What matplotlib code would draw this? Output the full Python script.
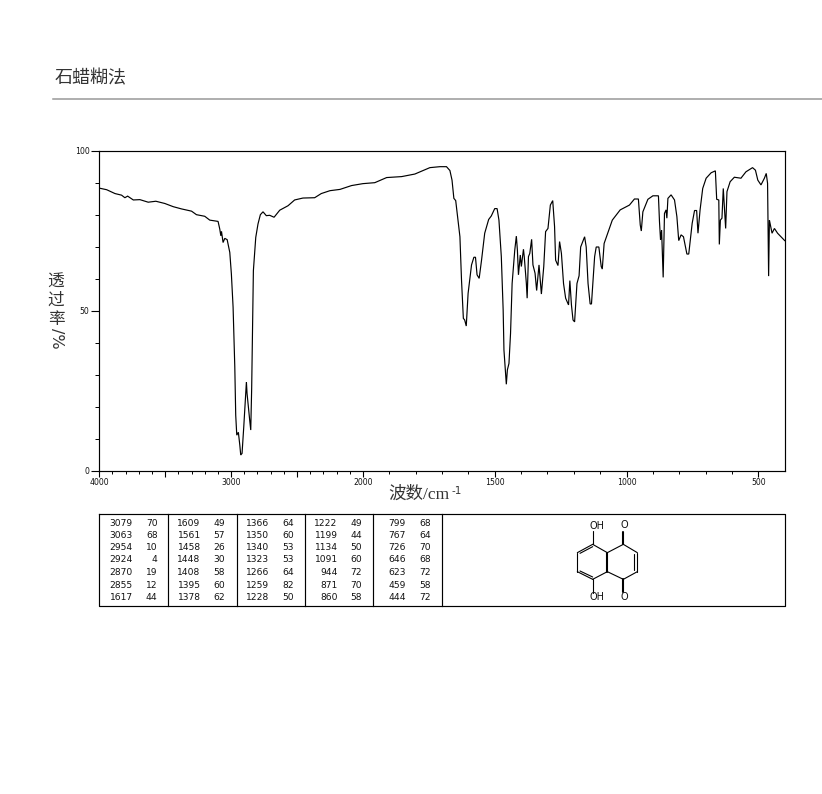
import numpy as np
import matplotlib
matplotlib.use("Agg")
import matplotlib.pyplot as plt

CJK = ['Noto Sans CJK SC', 'DejaVu Sans']
SERIF_CJK = ['Liberation Serif', 'Noto Sans CJK SC']

wavenumber = [4000,3944,3881,3831,3806,3785,3742,3692,3629,3571,3503,3439,3376,3300,3263,3200,3162,3099,
 3086,3078,3073,3061,3048,3030,3010,2998,2985,2972,2965,2957,2950,2945,2934,2927,2917,2904,2894,2884,2879,
 2869,2859,2851,2844,2831,2813,2796,2778,2758,2733,2707,2674,2631,2568,2518,2455,2366,2316,2250,2174,2086,
 2000,1955,1910,1853,1803,1746,1708,1683,1670,1662,1655,1648,1641,1632,1626,1619,1614,1608,1601,1588,1579,
 1573,1567,1559,1550,1538,1523,1513,1500,1491,1484,1475,1468,1465,1460,1456,1452,1446,1440,1434,1424,1418,
 1414,1410,1403,1399,1391,1388,1380,1377,1372,1367,1360,1355,1347,1341,1332,1323,1314,1307,1298,1289,1280,
 1273,1269,1260,1254,1247,1239,1231,1220,1215,1209,1203,1197,1188,1180,1174,1159,1153,1146,1138,1133,1121,
 1115,1105,1096,1092,1085,1067,1054,1024,989,970,955,948,944,938,919,900,879,875,871,867,861,856,850,847,
 843,831,818,809,802,793,784,771,764,751,742,734,729,721,711,698,679,663,658,650,648,644,638,633,628,624,
 619,607,591,566,547,522,511,502,490,477,470,465,461,458,448,439,427,408,400]
transmittance = [88.4,87.9,86.7,86.2,85.4,85.9,84.7,84.8,84.0,84.3,83.6,82.6,81.9,81.2,80.1,79.6,78.4,78.0,
 75.6,73.5,74.9,71.4,72.7,72.3,68.3,61.6,51.2,32.5,17.4,11.2,11.7,12.1,8.1,5.0,5.5,13.8,21.1,27.8,24.2,
 20.0,15.9,12.8,25.8,62.6,73.0,77.2,80.1,81.0,79.8,79.9,79.3,81.5,82.9,84.7,85.3,85.4,86.7,87.6,88.0,89.2,
 89.8,90.1,91.7,92.0,92.8,94.8,95.1,95.1,93.9,90.9,85.2,84.5,79.5,73.2,59.7,47.7,47.2,45.3,55.5,64.4,66.8,
 66.8,61.3,60.2,65.9,74.3,78.6,79.7,82.0,82.0,78.4,67.0,50.3,37.8,31.6,27.1,31.6,33.6,43.0,58.6,69.0,73.4,
 69.0,61.3,67.5,63.9,69.3,67.0,58.6,54.0,67.0,68.0,72.4,64.4,61.8,56.4,64.4,55.3,63.9,74.8,75.8,83.1,84.5,
 76.4,65.9,64.2,71.7,68.0,58.6,54.0,51.9,59.5,51.9,47.2,46.6,58.6,61.0,70.0,73.2,70.0,58.6,52.2,52.2,67.0,
 70.0,70.0,63.9,63.1,71.1,75.3,78.4,81.6,83.1,85.0,85.0,76.9,75.0,81.0,84.9,86.0,86.0,77.9,72.2,75.3,60.5,80.5,81.6,79.0,
 85.2,86.3,84.7,79.5,72.0,73.8,73.2,67.8,67.8,77.4,81.4,81.4,74.3,81.6,88.3,91.5,93.2,93.8,84.9,84.7,70.8,78.4,79.0,88.3,81.6,75.8,
 87.3,90.4,91.8,91.5,93.5,94.8,94.0,90.9,89.4,91.5,93.0,89.9,60.9,78.4,74.3,75.8,74.3,72.7,72.0]

major_xticks = [4000, 3000, 2000, 1500, 1000, 500]
y_labels = [0, 50, 100]

peak_wn = [[3079,3063,2954,2924,2870,2855,1617],
           [1609,1561,1458,1448,1408,1395,1378],
           [1366,1350,1340,1323,1266,1259,1228],
           [1222,1199,1134,1091,944,871,860],
           [799,767,726,646,623,459,444]]
peak_t = [[70,68,10,4,19,12,44],
          [49,57,26,30,58,60,62],
          [64,60,53,53,64,82,50],
          [49,44,50,60,72,70,58],
          [68,64,70,68,72,58,72]]

W, H = 822, 794
fig = plt.figure(figsize=(W/100, H/100), dpi=100, facecolor='white')

# full-figure pixel overlay for page furniture
pg = fig.add_axes([0, 0, 1, 1])
pg.set_xlim(0, W); pg.set_ylim(H, 0); pg.axis('off')

ax = fig.add_axes([99.3/W, 1-471/H, (784.7-99.3)/W, 320/H])

def fwd(w):
    w = np.asarray(w, dtype=float)
    return np.where(w >= 2000, w, 2000 + (w-2000)*2)
def inv(v):
    v = np.asarray(v, dtype=float)
    return np.where(v >= 2000, v, 2000 + (v-2000)/2)
ax.set_xscale('function', functions=(fwd, inv))
ax.set_xlim(4000, 400)
ax.set_ylim(0, 100)
ax.plot(wavenumber, transmittance, color='black', lw=0.85, solid_joinstyle='miter')

ax.set_xticks(list(range(4000, 400, -500)))
ax.set_xticklabels([str(t) if t in major_xticks else '' for t in range(4000, 400, -500)], fontsize=5.6, family='DejaVu Sans', color='#111111')
ax.set_xticks(list(range(3900, 400, -100)), minor=True)
ax.set_yticks(y_labels)
ax.set_yticklabels([str(v) for v in y_labels], fontsize=5.6, color='#111111')
ax.set_yticks(list(range(0, 101, 10)), minor=True)
ax.tick_params(axis='x', which='major', length=4, width=0.8, pad=1)
ax.tick_params(axis='x', which='minor', length=2, width=0.7)
ax.tick_params(axis='y', which='major', length=6, width=0.8, pad=1)
ax.tick_params(axis='y', which='minor', length=3, width=0.7)
for s in ax.spines.values():
    s.set_linewidth(0.85)

# heading
pg.text(55, 78.5, '石蜡糊法', fontsize=13, family=CJK, color='#333333', ha='left', va='center')
pg.plot([53, 822], [99, 99], color='#999999', lw=1.1)

# axis titles
for yc, ch in zip([282.5, 300.5, 319.5], '透过率'):
    pg.text(56, yc, ch, fontsize=12, family=CJK, color='#333333', ha='center', va='center')
pg.text(56, 338, '/%', fontsize=11.5, family='DejaVu Sans', color='#333333', ha='center', va='center', rotation=-90)
pg.text(388, 495, '波数/cm', fontsize=12.6, family=SERIF_CJK, color='#333333', ha='left', va='center')
pg.text(451, 491, '-1', fontsize=7.5, family='DejaVu Sans', color='#333333', ha='left', va='center')

# peak table
pg.plot([99, 785, 785, 99, 99], [514, 514, 606, 606, 514], color='black', lw=0.85)
for xd in [168, 237, 305, 373, 442]:
    pg.plot([xd, xd], [514, 606], color='black', lw=0.85)
wn_right = [132.7, 200.7, 269, 337.7, 406]
t_right = [157.7, 225, 294, 362, 431]
row_y = [523, 535, 547.5, 560, 572.5, 585, 597.3]
for c in range(5):
    for r in range(7):
        pg.text(wn_right[c], row_y[r], str(peak_wn[c][r]), fontsize=6.6, ha='right', va='center', color='#111111')
        pg.text(t_right[c], row_y[r], str(peak_t[c][r]), fontsize=6.6, ha='right', va='center', color='#111111')

# structure
def mp(a, b, lw=0.8):
    pg.plot([520+a[0]/3, 520+b[0]/3], [510+a[1]/3, 510+b[1]/3], color='black', lw=lw, solid_capstyle='round')
A, B, C, D, E, F = (218,103), (262,128), (262,185), (218,208), (172,185), (172,128)
G, K, L, M = (310,103), (352,128), (352,185), (310,208)
for p, q in [(A,B),(C,D),(D,E),(E,F),(F,A),(B,G),(G,K),(K,L),(L,M),(M,C)]:
    mp(p, q)
mp(B, C, 1.5)
mp((180,130), (218,110)); mp((180,183), (218,201))
mp((343,132), (343,181))
mp(A, (218,62)); mp(D, (218,248))
mp(G, (310,65), 1.5); mp(M, (310,245), 1.5)
for zx, zy, s in [(232,48,'OH'), (232,262,'OH'), (312,46,'O'), (312,262,'O')]:
    pg.text(520+zx/3, 510+zy/3, s, fontsize=7, ha='center', va='center', color='#111111')

fig.savefig('out.png', dpi=100, facecolor='white')
